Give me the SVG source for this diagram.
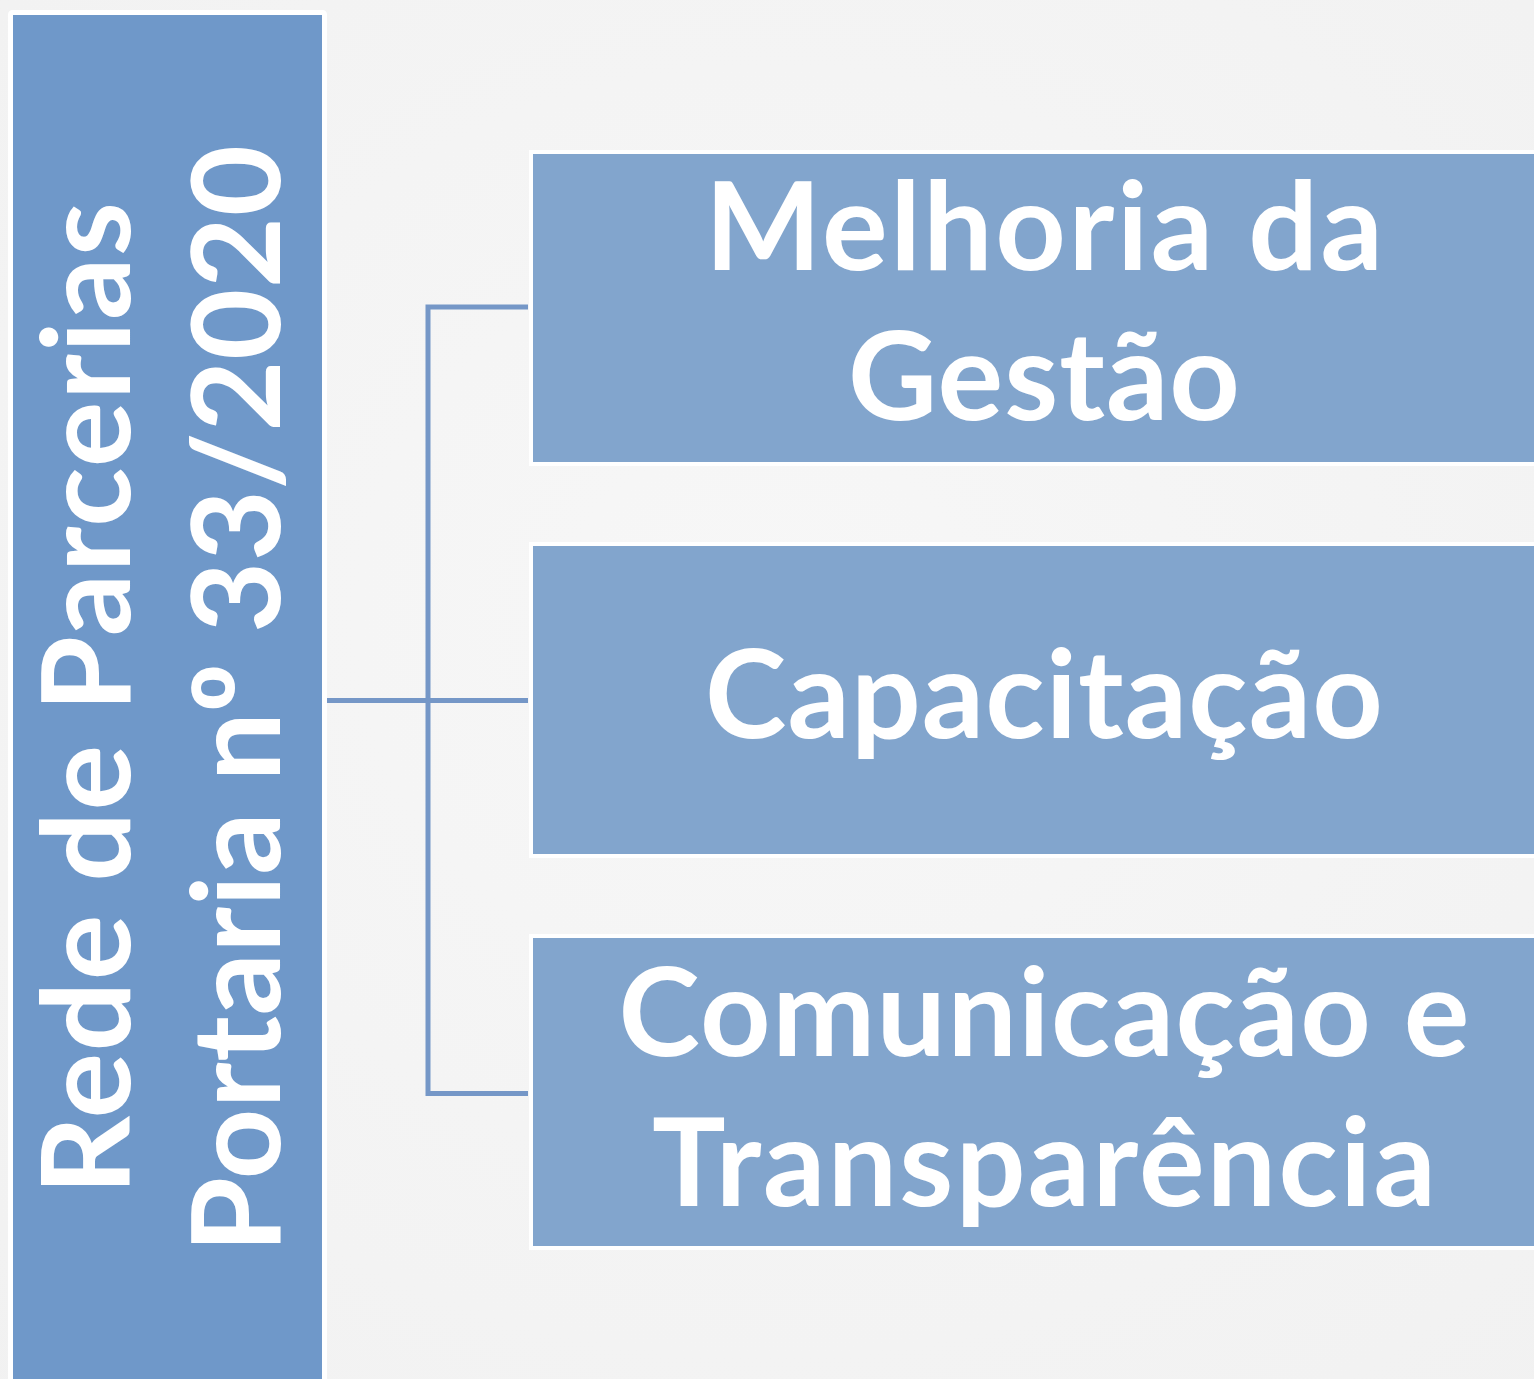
<svg xmlns="http://www.w3.org/2000/svg" width="1534" height="1379" viewBox="0 0 1534 1379">
<defs>
<radialGradient id="bg" cx="0.5" cy="0.45" r="0.8">
<stop offset="0" stop-color="#f7f7f7"/>
<stop offset="1" stop-color="#f1f1f1"/>
</radialGradient>
</defs>
<style>
.main{fill:#6f98c9;stroke:#ffffff;stroke-width:5}
.box{fill:#82a5cd;stroke:#ffffff;stroke-width:4}
.lbl{font-family:Lato,"Open Sans","Liberation Sans",sans-serif;font-weight:700;fill:#ffffff;text-anchor:middle;font-size:123px}
.ord{font-family:"Open Sans","Noto Sans",sans-serif}
.conn{fill:none;stroke:#7597c7;stroke-width:5}
</style>
<rect width="1534" height="1379" fill="url(#bg)"/>
<g id="root">
<rect class="main" x="10.5" y="12.5" width="314" height="1420" rx="2"/>
<text class="lbl" transform="translate(130,698.5) rotate(-90)" x="0" y="0" textLength="993" lengthAdjust="spacing">Rede de Parcerias</text>
<text class="lbl" transform="translate(280,699) rotate(-90)" x="0" y="0" textLength="1108" lengthAdjust="spacing">Portaria n<tspan class="ord">º</tspan> 33/2020</text>
</g>
<g id="connectors">
<line class="conn" x1="327" y1="700.5" x2="528" y2="700.5"/>
<polyline class="conn" points="528,307 428,307 428,1093.5 528,1093.5"/>
</g>
<g id="node1">
<rect class="box" x="531" y="152" width="1030" height="312"/>
<text class="lbl" x="1044" y="270" textLength="678" lengthAdjust="spacing">Melhoria da</text>
<text class="lbl" x="1044" y="420" textLength="392" lengthAdjust="spacing">Gestão</text>
</g>
<g id="node2">
<rect class="box" x="531" y="544" width="1030" height="312"/>
<text class="lbl" x="1044" y="738" textLength="678" lengthAdjust="spacing">Capacitação</text>
</g>
<g id="node3">
<rect class="box" x="531" y="936" width="1030" height="312"/>
<text class="lbl" x="1044" y="1056" textLength="851" lengthAdjust="spacing">Comunicação e</text>
<text class="lbl" x="1044" y="1206" textLength="784" lengthAdjust="spacing">Transparência</text>
</g>
</svg>
